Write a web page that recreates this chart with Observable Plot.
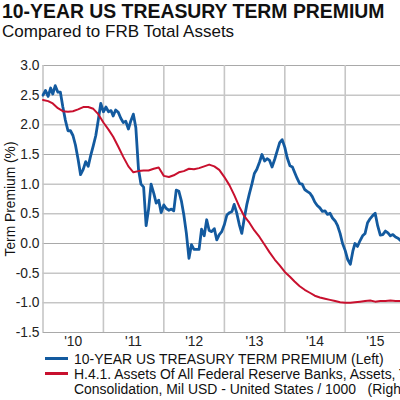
<!DOCTYPE html>
<html>
<head>
<meta charset="utf-8">
<script src="https://cdn.jsdelivr.net/npm/d3@7"></script>
<script src="https://cdn.jsdelivr.net/npm/@observablehq/plot@0.6"></script>
<style>
  html, body { margin: 0; padding: 0; background: #fff; width: 400px; height: 400px; overflow: hidden; }
  body { position: relative; font-family: "Liberation Sans", Arial, sans-serif; color: #111; }
  .title { position: absolute; left: 2px; top: 2px; font-size: 19.4px; font-weight: bold; line-height: 1; white-space: nowrap; }
  .subtitle { position: absolute; left: 2px; top: 23px; font-size: 17px; line-height: 1; white-space: nowrap; }
  .ylabel { position: absolute; left: 10.5px; top: 198.5px; font-size: 13.8px; line-height: 16px; white-space: nowrap; transform: translate(-50%, -50%) rotate(-90deg); }
  #chart { position: absolute; left: 0; top: 50px; }
  .legend { position: absolute; left: 45px; top: 351.5px; font-size: 13.95px; line-height: 15px; white-space: nowrap; }
  .legend div { height: 15px; }
  .sw { display: inline-block; width: 23px; height: 3px; margin-right: 6px; vertical-align: middle; position: relative; top: -1px; }
  .indent { padding-left: 29px; }
</style>
</head>
<body>
<div class="title">10-YEAR US TREASURY TERM PREMIUM</div>
<div class="subtitle">Compared to FRB Total Assets</div>
<div class="ylabel">Term Premium (%)</div>
<div id="chart"></div>
<div class="legend"><div><span class="sw" style="background:#135a9f"></span>10-YEAR US TREASURY TERM PREMIUM (Left)</div><div><span class="sw" style="background:#c8102e"></span>H.4.1. Assets Of All Federal Reserve Banks, Assets, Total</div><div class="indent">Consolidation, Mil USD - United States / 1000&nbsp;&nbsp;&nbsp;(Right)</div></div>
<script>
// 10-year term premium (%), semi-monthly observations (1st and 16th) starting Jan 2010
const termPremium = [
  2.50, 2.58, 2.48, 2.62, 2.52, 2.66, 2.55, 2.55, 2.30, 2.08, 1.90, 1.90,
  1.82, 1.66, 1.42, 1.16, 1.25, 1.38, 1.30, 1.48, 1.65, 1.82, 2.08, 2.36,
  2.22, 2.30, 2.22, 2.24, 2.15, 2.25, 2.21, 2.11, 2.04, 2.06, 1.93, 2.07,
  2.18, 1.95, 1.25, 1.00, 0.95, 0.30, 0.58, 1.00, 0.85, 0.68, 0.73, 0.52,
  0.65, 0.59, 0.56, 0.58, 0.55, 0.90, 0.88, 0.72, 0.48, 0.18, -0.25, -0.02,
  -0.10, -0.10, -0.10, 0.24, 0.13, 0.40, 0.22, 0.20, 0.25, 0.06, 0.15, 0.20,
  0.32, 0.48, 0.52, 0.54, 0.66, 0.52, 0.32, 0.17, 0.42, 0.65, 0.84, 1.00,
  1.18, 1.25, 1.37, 1.50, 1.39, 1.43, 1.40, 1.29, 1.42, 1.56, 1.70, 1.75,
  1.62, 1.44, 1.31, 1.29, 1.20, 1.10, 1.01, 1.00, 0.91, 0.88, 0.85, 0.79,
  0.70, 0.64, 0.60, 0.54, 0.55, 0.49, 0.51, 0.43, 0.38, 0.30, 0.17, 0.00,
  -0.12, -0.27, -0.35, -0.13, 0.00, -0.05, 0.05, 0.13, 0.17, 0.35, 0.42, 0.47,
  0.51, 0.30, 0.14, 0.15, 0.21, 0.18, 0.13, 0.15, 0.11, 0.09, 0.05
];
// FRB total assets (right axis, inverted), as drawn against the left scale; monthly from Jan 2010
const fedAssets = [
  2.42, 2.40, 2.36, 2.28, 2.23, 2.22, 2.23, 2.26, 2.30, 2.30, 2.27, 2.18,
  2.04, 1.92, 1.80, 1.63, 1.46, 1.30, 1.20, 1.22, 1.23, 1.23, 1.26, 1.28,
  1.14, 1.12, 1.15, 1.20, 1.22, 1.26, 1.25, 1.27, 1.30, 1.33, 1.30, 1.24,
  1.12, 0.98, 0.82, 0.62, 0.46, 0.35, 0.22, 0.11, -0.02, -0.15, -0.27, -0.37,
  -0.48, -0.56, -0.64, -0.72, -0.78, -0.83, -0.88, -0.91, -0.93, -0.95, -0.97, -0.99,
  -1.00, -1.00, -0.99, -0.98, -0.97, -0.96, -0.98, -0.97, -0.97, -0.96, -0.97, -0.97
];
const yTicks = [-1.5, -1.0, -0.5, 0.0, 0.5, 1.0, 1.5, 2.0, 2.5, 3.0];
const yearLabels = ["'10", "'11", "'12", "'13", "'14", "'15"];
const years = [2010, 2011, 2012, 2013, 2014, 2015];

const tpData = termPremium.map((v, i) => ({date: new Date(Date.UTC(2010, Math.floor(i / 2), i % 2 ? 16 : 1)), value: v}));
const faData = fedAssets.map((v, i) => ({date: new Date(Date.UTC(2010, i, 1)), value: v}));
const yearStarts = years.map(y => new Date(Date.UTC(y, 0, 1)));
const labelDates = years.map(y => new Date(Date.UTC(y, 6, 2)));

const chart = Plot.plot({
  width: 400,
  height: 302,
  marginLeft: 42.5,
  marginRight: 0,
  marginTop: 15,
  marginBottom: 20,
  style: {fontFamily: "'Liberation Sans', Arial, sans-serif", fontSize: "13.8px", color: "#222", background: "transparent", overflow: "visible"},
  x: {type: "utc", domain: [new Date(Date.UTC(2010, 0, 1)), new Date(Date.UTC(2015, 11, 1))], label: null},
  y: {domain: [-1.5, 3.0], label: null},
  marks: [
    Plot.ruleY(yTicks, {stroke: "#a9a9a9", strokeWidth: 1}),
    Plot.ruleX(yearStarts, {stroke: "#c6c6c6", strokeWidth: 1.6}),
    Plot.axisY({ticks: yTicks, tickFormat: d => d.toFixed(1), tickSize: 0, tickPadding: 3.5, label: null}),
    Plot.axisX({ticks: labelDates, tickFormat: (d, i) => yearLabels[i], tickSize: 0, tickPadding: 4, label: null}),
    Plot.line(tpData, {x: "date", y: "value", stroke: "#135a9f", strokeWidth: 2.8}),
    Plot.line(faData, {x: "date", y: "value", stroke: "#c8102e", strokeWidth: 2})
  ]
});
document.getElementById("chart").appendChild(chart);
</script>
</body>
</html>
